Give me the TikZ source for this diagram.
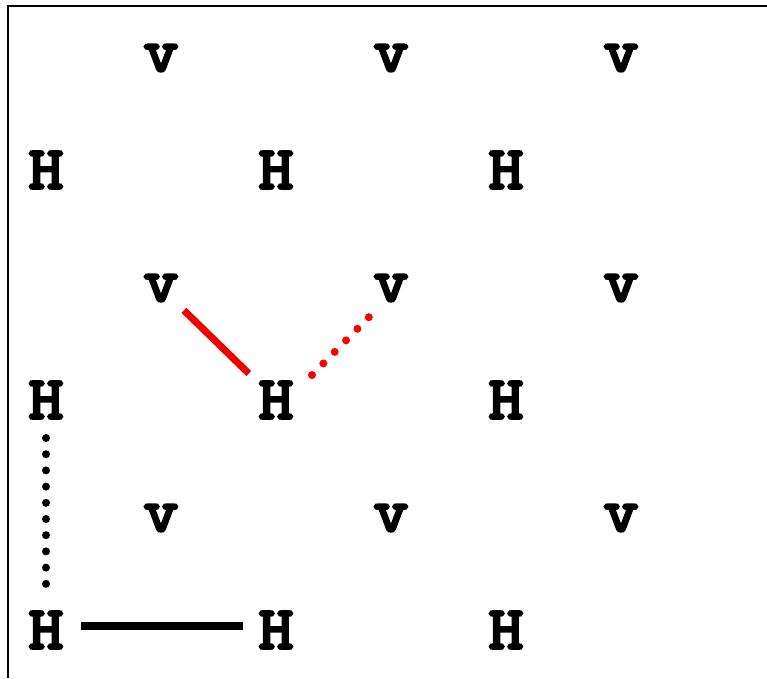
\documentclass[tikz,border=0pt]{standalone}
\usepackage{fontspec}
\newfontfamily\courfont[FakeBold=5,FakeStretch=1.12]{Latin Modern Mono}
\usetikzlibrary{calc}
\tikzset{
  lbl/.style={inner sep=0pt, outer sep=0pt, font=\fontsize{60}{60}\courfont},
  frameline/.style={line width=2pt, black},
  redsolid/.style={line width=7pt, red!95!black, line cap=butt},
  reddots/.style={line width=8pt, red, line cap=round, dash pattern=on 0pt off 16.2pt},
  blackdots/.style={line width=8pt, black, line cap=round, dash pattern=on 0pt off 16.2pt},
  blacksolid/.style={line width=8pt, black, line cap=butt}
}
\begin{document}
\begin{tikzpicture}[x=1pt, y=-1pt]
\useasboundingbox (0,0) rectangle (767,678);
\fill[white] (0,0) rectangle (767,678);
\coordinate (ftr) at (767,6);
\coordinate (ftl) at (8,6);
\coordinate (fbl) at (8,678);
\draw[frameline] (ftr) -- (ftl) -- (fbl);
% v nodes
\foreach \r/\yy in {1/58, 2/288, 3/518} {
  \foreach \c/\xx in {1/161, 2/391, 3/621} {
    \node[lbl] (v\r\c) at (\xx,\yy) {v};
  }
}
% H nodes
\foreach \r/\yy in {1/170, 2/400, 3/630} {
  \foreach \c/\xx in {1/46, 2/276, 3/506} {
    \node[lbl] (h\r\c) at (\xx,\yy) {H};
  }
}
% connectors
\draw[redsolid] ($(v21.center)!32pt!(h22.center)$) -- ($(h22.center)!38pt!(v21.center)$);
\draw[reddots] ($(h22.center)+(36,-25)$) -- ($(v22.center)+(-22,29)$);
\draw[blackdots] ($(h21.center)+(0,38)$) -- ($(h31.center)+(0,-46.2)$);
\draw[blacksolid] ($(h31.center)+(35,-4)$) -- ($(h32.center)+(-33,-4)$);
\end{tikzpicture}
\end{document}
